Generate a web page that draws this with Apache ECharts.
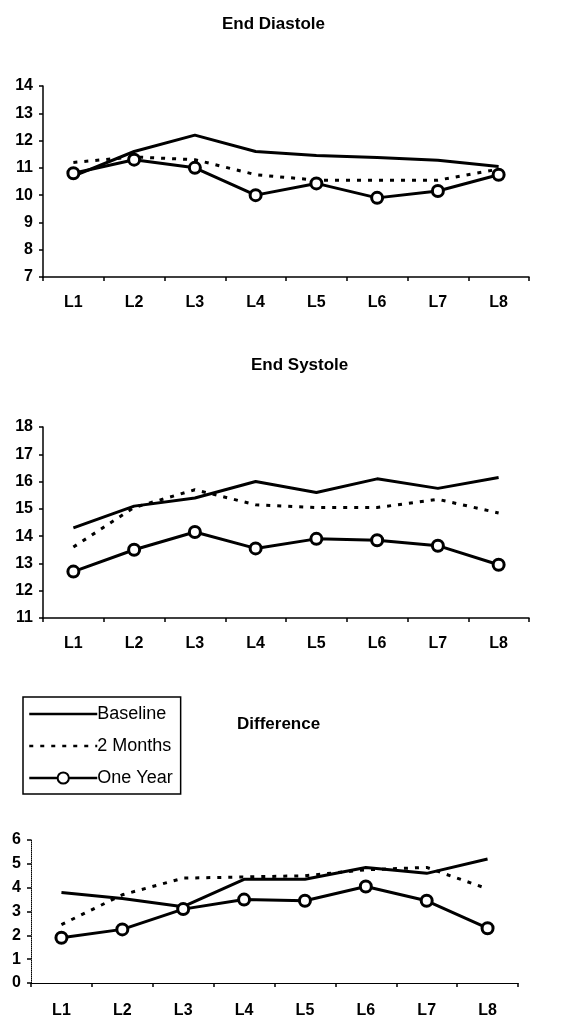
<!DOCTYPE html>
<html>
<head>
<meta charset="utf-8">
<script src="https://cdn.jsdelivr.net/npm/echarts@6/dist/echarts.min.js"></script>
<style>
  html, body { margin: 0; padding: 0; background: #fff; }
  #chart { width: 577px; height: 1021px; }
</style>
</head>
<body>
<div id="chart"></div>
<script>
const categories = ['L1', 'L2', 'L3', 'L4', 'L5', 'L6', 'L7', 'L8'];

// End Diastole
const diastoleBaseline = [10.7, 11.6, 12.2, 11.6, 11.45, 11.38, 11.28, 11.05];
const diastole2Months = [11.2, 11.4, 11.3, 10.75, 10.55, 10.55, 10.55, 10.95];
const diastoleOneYear = [10.8, 11.3, 11.0, 10.0, 10.43, 9.9, 10.15, 10.75];

// End Systole
const systoleBaseline = [14.3, 15.1, 15.4, 16.0, 15.6, 16.1, 15.75, 16.15];
const systole2Months = [13.6, 15.05, 15.7, 15.15, 15.05, 15.05, 15.35, 14.85];
const systoleOneYear = [12.7, 13.5, 14.15, 13.55, 13.9, 13.85, 13.65, 12.95];

// Difference
const diffBaseline = [3.8, 3.55, 3.2, 4.35, 4.35, 4.85, 4.6, 5.2];
const diff2Months = [2.45, 3.7, 4.4, 4.45, 4.5, 4.75, 4.85, 3.95];
const diffOneYear = [1.9, 2.25, 3.1, 3.5, 3.45, 4.05, 3.45, 2.3];

const titles = ['End Diastole', 'End Systole', 'Difference'];
const yRanges = [[7, 14], [11, 18], [0, 6]];

const font = 'Liberation Sans, Arial, sans-serif';

const myChart = echarts.init(document.getElementById('chart'));

function xAxis(gridIndex, margin, lineWidth) {
  return {
    type: 'category',
    gridIndex: gridIndex,
    data: categories,
    boundaryGap: true,
    axisLine: { show: true, lineStyle: { color: '#000', width: lineWidth } },
    axisTick: { show: true, length: 4, inside: false, lineStyle: { color: '#000', width: 1.5 } },
    axisLabel: { color: '#000', fontFamily: font, fontWeight: 'bold', fontSize: 16, margin: margin, interval: 0 },
    splitLine: { show: false }
  };
}

function yAxis(gridIndex, range, lineType) {
  return {
    type: 'value',
    gridIndex: gridIndex,
    min: range[0],
    max: range[1],
    interval: 1,
    axisLine: { show: true, lineStyle: { color: '#000', width: lineType === 'solid' ? 1.5 : 1, type: lineType } },
    axisTick: { show: true, length: 4, lineStyle: { color: '#000', width: 1.5 } },
    axisLabel: { color: '#000', fontFamily: font, fontWeight: 'bold', fontSize: 16, margin: 10 },
    splitLine: { show: false }
  };
}

function lines(i, base, twoM, oneY) {
  return [
    {
      name: 'Baseline', type: 'line', xAxisIndex: i, yAxisIndex: i,
      data: base, showSymbol: false, symbol: 'none',
      itemStyle: { color: '#000' },
      lineStyle: { color: '#000', width: 3 }
    },
    {
      name: '2 Months', type: 'line', xAxisIndex: i, yAxisIndex: i,
      data: twoM, showSymbol: false, symbol: 'none',
      itemStyle: { color: '#000' },
      lineStyle: { color: '#000', width: 3, type: [4, 7] }
    },
    {
      name: 'One Year', type: 'line', xAxisIndex: i, yAxisIndex: i,
      data: oneY, symbol: 'circle', symbolSize: 11, z: 5,
      itemStyle: { color: '#fff', borderColor: '#000', borderWidth: 3 },
      lineStyle: { color: '#000', width: 3 }
    }
  ];
}

const titleStyle = { fontFamily: font, fontWeight: 'bold', fontSize: 17, color: '#000' };

myChart.setOption({
  animation: false,
  backgroundColor: '#fff',
  title: [
    { text: titles[0], left: 217, top: 11, textStyle: titleStyle },
    { text: titles[1], left: 246, top: 352, textStyle: titleStyle },
    { text: titles[2], left: 232, top: 711, textStyle: titleStyle }
  ],
  legend: {
    data: [
      { name: 'Baseline', itemStyle: { opacity: 0 } },
      { name: '2 Months', itemStyle: { opacity: 0 } },
      { name: 'One Year' }
    ],
    orient: 'vertical',
    left: 23,
    top: 697,
    padding: [8, 8, 7, 5],
    itemGap: 14,
    itemWidth: 68,
    itemHeight: 14,
    borderColor: '#000',
    borderWidth: 1.5,
    borderRadius: 0,
    lineStyle: { width: 2.5 },
    textStyle: { fontFamily: font, fontSize: 18, color: '#000', padding: [0, 0, 0, -5] }
  },
  grid: [
    { left: 43, top: 86, width: 486, height: 191 },
    { left: 43, top: 427, width: 486, height: 191 },
    { left: 31, top: 840, width: 487, height: 143 }
  ],
  xAxis: [xAxis(0, 18, 1.5), xAxis(1, 18, 1.5), xAxis(2, 20, 1)],
  yAxis: [
    yAxis(0, yRanges[0], 'solid'),
    yAxis(1, yRanges[1], 'solid'),
    yAxis(2, yRanges[2], 'dotted')
  ],
  series: [].concat(
    lines(0, diastoleBaseline, diastole2Months, diastoleOneYear),
    lines(1, systoleBaseline, systole2Months, systoleOneYear),
    lines(2, diffBaseline, diff2Months, diffOneYear)
  )
});
</script>
</body>
</html>
